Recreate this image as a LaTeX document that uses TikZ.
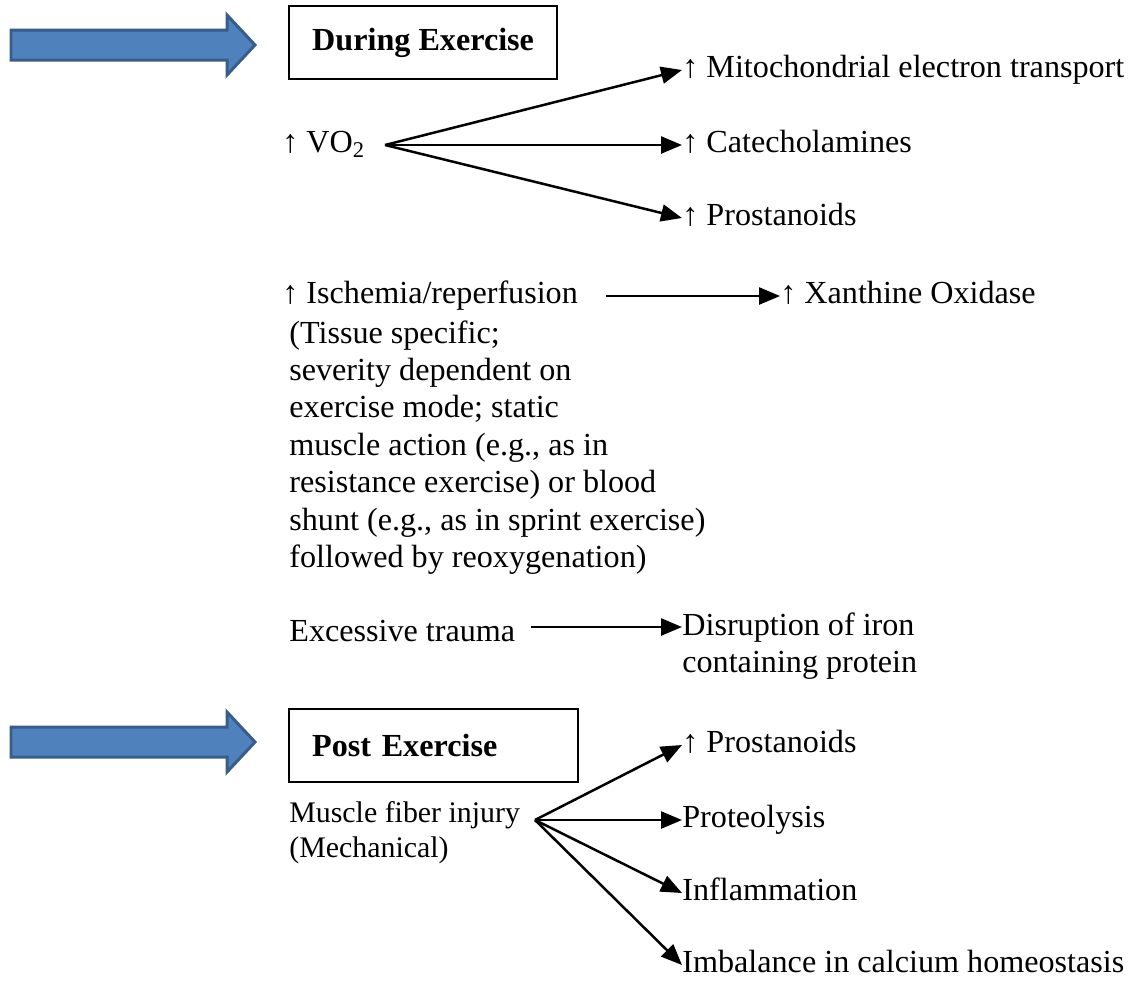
\documentclass[tikz,border=0pt]{standalone}
\usepackage{fontspec}
\setmainfont{Liberation Serif}
\usetikzlibrary{arrows.meta}
\definecolor{arrowblue}{HTML}{4F81BD}
\definecolor{arrowedge}{HTML}{385D8A}
\begin{document}
\begin{tikzpicture}[x=0.02cm, y=-0.02cm,
		txt/.style={anchor=west, inner sep=0pt, text height=13pt, text depth=4pt, font=\fontsize{18.3}{21.3}\selectfont},
		para/.style={anchor=north west, inner sep=0pt, align=left, font=\fontsize{18.3}{21.3}\selectfont},
		headbox/.style={draw, line width=0.045cm, anchor=north west, inner xsep=0.46cm, inner ysep=0pt, minimum height=1.46cm, font=\fontsize{18.3}{21.3}\selectfont\bfseries},
		link/.style={line width=0.05cm, -{Triangle[length=0.42cm, width=0.34cm]}},
		bigarrow/.style={draw=arrowedge, line width=0.06cm, fill=arrowblue, line join=miter}]
		\useasboundingbox (0,0) rectangle (1135,981);

		% blue pointers
		\draw[bigarrow] (11,30) -- (227,30) -- (227,15) -- (255,45) -- (227,75) -- (227,60) -- (11,60) -- cycle;
		\draw[bigarrow] (11,727) -- (227,727) -- (227,712) -- (255,742) -- (227,772) -- (227,757) -- (11,757) -- cycle;

		% during exercise
		\node[headbox, minimum width=5.36cm] (during) at (288,5) {During Exercise};

		\node[txt] (vo) at (282,145) {↑ VO\textsubscript{2}};
		\coordinate (vofan) at (385,145);
		\node[txt] (mito) at (682,70) {↑ Mitochondrial electron transport};
		\node[txt] (cate) at (682,145) {↑ Catecholamines};
		\node[txt] (pros) at (682,218) {↑ Prostanoids};
		\draw[link] (vofan) -- (mito.west);
		\draw[link] (vofan) -- (cate.west);
		\draw[link] (vofan) -- (pros.west);

		\node[txt] (isch) at (282,296) {↑ Ischemia/reperfusion};
		\node[txt] (xan) at (780,296) {↑ Xanthine Oxidase};
		\draw[link, shorten <=0.56cm] (isch.east) -- (xan.west);
		\node[para] (ischnote) at (289,320) {(Tissue specific;\\ severity dependent on\\ exercise mode; static\\ muscle action (e.g., as in\\ resistance exercise) or blood\\ shunt (e.g., as in sprint exercise)\\ followed by reoxygenation)};

		\node[txt] (trauma) at (289,634) {Excessive trauma};
		\node[para] (disr) at (682,612) {Disruption of iron\\ containing protein};
		\draw[link] ([xshift=0.3cm, yshift=0.14cm]trauma.east) -- ([yshift=0.14cm]trauma.east -| disr.west);

		% post exercise
		\node[headbox, text width=4.86cm, align=left] (post) at (288,708) {Post Exercise};

		\node[para, font=\fontsize{17}{19.9}\selectfont] (muscle) at (289,801) {Muscle fiber injury\\ (Mechanical)};
		\coordinate (mfan) at (535,820);
		\node[txt] (pros2) at (682,745) {↑ Prostanoids};
		\node[txt] (prot) at (682,820) {Proteolysis};
		\node[txt] (infl) at (682,893) {Inflammation};
		\node[txt] (calc) at (682,965) {Imbalance in calcium homeostasis};
		\draw[link] (mfan) -- (pros2.west);
		\draw[link] (mfan) -- (prot.west);
		\draw[link] (mfan) -- (infl.west);
		\draw[link] (mfan) -- (calc.west);
	\end{tikzpicture}
\end{document}
